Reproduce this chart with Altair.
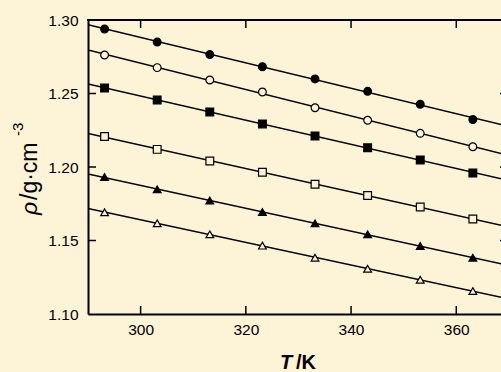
import altair as alt
import pandas as pd

# ---- data ----
T_K = [293.15, 303.15, 313.15, 323.15, 333.15, 343.15, 353.15, 363.15]
rho_filled_circle = [1.2939, 1.2850, 1.2765, 1.2682, 1.2599, 1.2515, 1.2427, 1.2323]
rho_open_circle = [1.2762, 1.2676, 1.2592, 1.2510, 1.2403, 1.2318, 1.2229, 1.2138]
rho_filled_square = [1.2537, 1.2456, 1.2374, 1.2293, 1.2211, 1.2131, 1.2048, 1.1959]
rho_open_square = [1.2208, 1.2120, 1.2041, 1.1964, 1.1882, 1.1806, 1.1728, 1.1646]
rho_filled_triangle = [1.1932, 1.1848, 1.1772, 1.1694, 1.1617, 1.1542, 1.1463, 1.1383]
rho_open_triangle = [1.1692, 1.1617, 1.1542, 1.1465, 1.1383, 1.1308, 1.1233, 1.1156]

series_names = ["s1", "s2", "s3", "s4", "s5", "s6"]
series_values = [rho_filled_circle, rho_open_circle, rho_filled_square,
                 rho_open_square, rho_filled_triangle, rho_open_triangle]
series_shapes = ["circle", "circle", "square", "square", "triangle-up", "triangle-up"]

x_tick_values = [300, 320, 340, 360]
y_tick_values = [1.10, 1.15, 1.20, 1.25, 1.30]
y_inner_ticks = [1.15, 1.20, 1.25]

x_title_parts = ["T", "/K"]
y_title_parts = ["ρ", "/g·cm", "-3"]

# ---- styling ----
BG = "#FDF3D7"
INK = "#000000"
FONT = "Liberation Sans"
W, H = 413, 294
T_MIN, T_MAX = 290, 368.5
FILL_RANGE = [INK, BG, INK, BG, INK, BG]

rows = []
for name, vals in zip(series_names, series_values):
    for t, r in zip(T_K, vals):
        rows.append({"T": t, "rho": r, "series": name})
df = pd.DataFrame(rows)

xs = alt.Scale(domain=[T_MIN, T_MAX], nice=False, zero=False)
ys = alt.Scale(domain=[1.10, 1.30], nice=False, zero=False)

x_axis = alt.Axis(values=x_tick_values, format="d", ticks=False, grid=False,
                  domain=True, domainColor=INK, domainWidth=2, title=None,
                  labelFont=FONT, labelFontSize=15.5, labelColor=INK,
                  labelPadding=8, labelFlush=False, labelOverlap=False)
y_axis = alt.Axis(values=y_tick_values, format=".2f", ticks=False, grid=False,
                  domain=True, domainColor=INK, domainWidth=2, title=None,
                  labelFont=FONT, labelFontSize=15.5, labelColor=INK,
                  labelPadding=10, labelFlush=False, labelOverlap=False)

base = alt.Chart(df)

fit_lines = base.transform_regression(
    "T", "rho", groupby=["series"], extent=[290, 370]
).mark_line(color=INK, strokeWidth=1.5, clip=True).encode(
    x=alt.X("T:Q", scale=xs, axis=x_axis),
    y=alt.Y("rho:Q", scale=ys, axis=y_axis),
    detail="series:N",
)

points = base.mark_point(filled=True, size=60, stroke=INK, strokeWidth=1.2,
                         opacity=1).encode(
    x=alt.X("T:Q", scale=xs),
    y=alt.Y("rho:Q", scale=ys),
    shape=alt.Shape("series:N", scale=alt.Scale(domain=series_names, range=series_shapes), legend=None),
    fill=alt.Fill("series:N", scale=alt.Scale(domain=series_names, range=FILL_RANGE), legend=None),
)

xt = alt.Chart(pd.DataFrame({"T": x_tick_values}))
top_ticks = xt.mark_rule(color=INK, strokeWidth=1.5).encode(
    x=alt.X("T:Q", scale=xs), y=alt.value(0), y2=alt.value(8))
bottom_ticks = xt.mark_rule(color=INK, strokeWidth=1.5).encode(
    x=alt.X("T:Q", scale=xs), y=alt.value(H), y2=alt.value(H - 8))

yt = alt.Chart(pd.DataFrame({"rho": y_inner_ticks}))
left_ticks = yt.mark_rule(color=INK, strokeWidth=1.5).encode(
    y=alt.Y("rho:Q", scale=ys), x=alt.value(0), x2=alt.value(8))
right_ticks = yt.mark_rule(color=INK, strokeWidth=1.5).encode(
    y=alt.Y("rho:Q", scale=ys), x=alt.value(412), x2=alt.value(421))

top_border = alt.Chart(pd.DataFrame({"a": [0]})).mark_rule(color=INK, strokeWidth=2).encode(
    x=alt.value(-1), x2=alt.value(W), y=alt.value(0))

def label(text, x, y, size, weight="normal", style="normal", angle=0, align="left"):
    return alt.Chart(pd.DataFrame({"t": [text]})).mark_text(
        font=FONT, fontSize=size, fontWeight=weight, fontStyle=style,
        angle=angle, align=align, baseline="alphabetic", color=INK,
    ).encode(text="t:N", x=alt.value(x), y=alt.value(y))

x_title_T = label(x_title_parts[0], 192, 349, 20, weight="bold", style="italic")
x_title_K = label(x_title_parts[1], 208, 349, 20, weight="bold")
y_title_rho = label(y_title_parts[0], -51, 195, 23, style="italic", angle=270)
y_title_unit = label(y_title_parts[1], -51, 180, 23, angle=270)
y_title_sup = label(y_title_parts[2], -65, 116, 15, angle=270)

chart = alt.layer(
    fit_lines, points, top_ticks, bottom_ticks, left_ticks, right_ticks, top_border,
    x_title_T, x_title_K, y_title_rho, y_title_unit, y_title_sup,
).properties(
    width=W, height=H, background=BG,
    padding={"left": 88, "top": 20, "right": 0, "bottom": 58},
    autosize=alt.AutoSizeParams(type="none"),
).configure_view(stroke=None)

chart.save("out.html", embed_options={"renderer": "svg", "actions": False})
